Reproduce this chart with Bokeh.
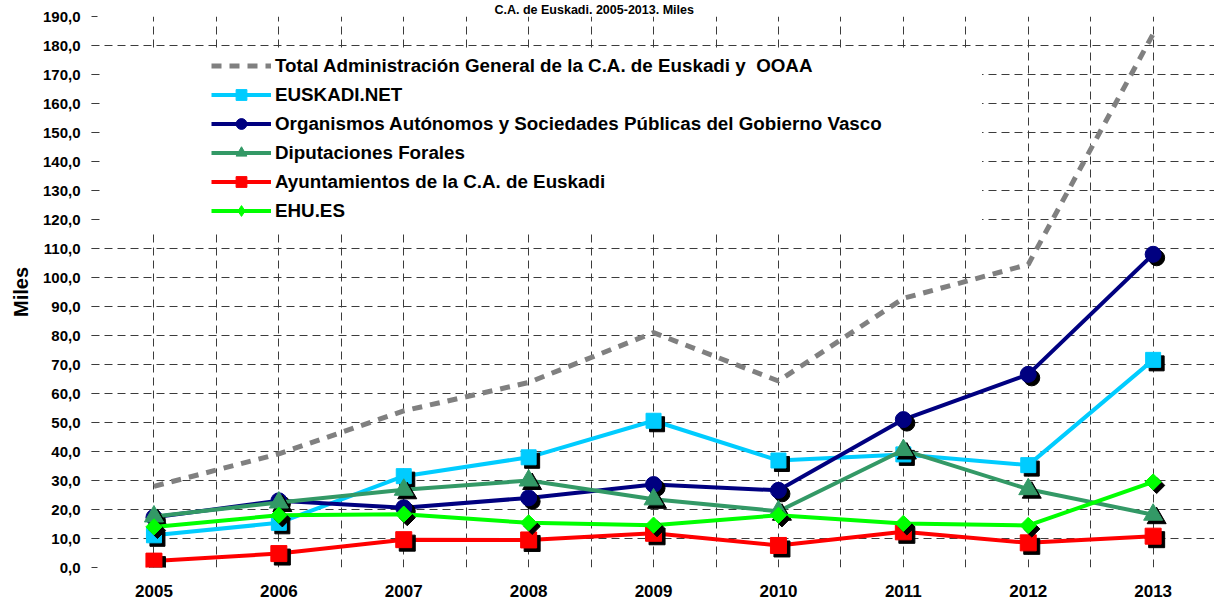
from bokeh.plotting import figure
from bokeh.models import Range1d, FixedTicker, Legend, LegendItem, BoxAnnotation
from bokeh.transform import dodge
from bokeh.embed import file_html
from bokeh.resources import INLINE

# ---------------- data ----------------
years = [2005, 2006, 2007, 2008, 2009, 2010, 2011, 2012, 2013]
year_labels = ["2005", "2006", "2007", "2008", "2009", "2010", "2011", "2012", "2013"]

total_admin = [28.0, 39.2, 54.0, 63.8, 81.0, 64.3, 92.8, 104.5, 184.0]
euskadi_net = [11.1, 15.4, 31.5, 38.0, 50.6, 36.9, 39.0, 35.3, 71.6]
organismos = [17.3, 23.0, 20.6, 24.0, 28.6, 26.6, 51.0, 66.6, 108.0]
diputaciones = [17.6, 22.4, 26.8, 30.0, 23.5, 19.4, 40.5, 27.0, 18.2]
ayuntamientos = [2.2, 4.8, 9.6, 9.5, 11.8, 7.6, 12.3, 8.5, 10.8]
ehu_es = [14.0, 18.0, 18.4, 15.4, 14.6, 18.0, 15.2, 14.5, 29.5]

series_names = [
    "Total Administración General de la C.A. de Euskadi y  OOAA",
    "EUSKADI.NET",
    "Organismos Autónomos y Sociedades Públicas del Gobierno Vasco",
    "Diputaciones Forales",
    "Ayuntamientos de la C.A. de Euskadi",
    "EHU.ES",
]

y_ticks = [0, 10, 20, 30, 40, 50, 60, 70, 80, 90, 100, 110, 120, 130, 140, 150, 160, 170, 180, 190]
y_tick_labels = ["0,0", "10,0", "20,0", "30,0", "40,0", "50,0", "60,0", "70,0", "80,0", "90,0",
                 "100,0", "110,0", "120,0", "130,0", "140,0", "150,0", "160,0", "170,0", "180,0", "190,0"]

title_text = "C.A. de Euskadi. 2005-2013. Miles"
y_title = "Miles"

# ---------------- figure ----------------
FONT = "Liberation Sans"
PX_PER_YEAR = 124.9
W, H = 1214, 605
LEFT, TOP, BOTTOM = 91, 15, 38
FRAME_W = W - LEFT
x_end = 2004.5 + FRAME_W / PX_PER_YEAR

p = figure(width=W, height=H, output_backend="svg", toolbar_location=None,
           x_range=Range1d(2004.5, x_end), y_range=Range1d(0, 190),
           min_border_left=LEFT, min_border_right=0, min_border_top=TOP, min_border_bottom=BOTTOM)
p.outline_line_color = None
p.background_fill_color = "white"

# title (top line of the original, which is cropped there)
p.title.text = title_text
p.title.align = "left"
p.title.offset = 403
p.title.standoff = 0
p.title.text_font = FONT
p.title.text_font_style = "bold"
p.title.text_font_size = "12.5px"
p.title.text_color = "black"

# grids
grid_col = "#3c3c3c"
p.xgrid.ticker = FixedTicker(ticks=[2004.5 + 0.5 * i for i in range(19)])
p.ygrid.ticker = FixedTicker(ticks=y_ticks)
for g in (p.xgrid, p.ygrid):
    g.grid_line_color = grid_col
    g.grid_line_dash = "8 5"
    g.grid_line_width = 1

# axes
p.yaxis.ticker = FixedTicker(ticks=y_ticks)
p.yaxis.major_label_overrides = dict(zip(y_ticks, y_tick_labels))
p.xaxis.ticker = FixedTicker(ticks=years)
p.xaxis.major_label_overrides = dict(zip(years, year_labels))
for ax in (p.xaxis, p.yaxis):
    ax.axis_line_color = None
    ax.minor_tick_line_color = None
    ax.major_label_text_font = FONT
    ax.major_label_text_font_style = "bold"
    ax.major_label_text_color = "black"
p.xaxis.major_tick_line_color = None
p.xaxis.major_tick_out = 0
p.xaxis.major_tick_in = 0
p.xaxis.major_label_text_font_size = "17px"
p.xaxis.major_label_standoff = 17
p.yaxis.major_tick_in = 6
p.yaxis.major_tick_out = 0
p.yaxis.major_tick_line_color = grid_col
p.yaxis.major_label_text_font_size = "15px"
p.yaxis.major_label_standoff = 11
p.yaxis.axis_label = y_title
p.yaxis.axis_label_text_font = FONT
p.yaxis.axis_label_text_font_style = "bold"
p.yaxis.axis_label_text_font_size = "20px"
p.yaxis.axis_label_text_color = "black"
p.yaxis.axis_label_standoff = 8

# white backdrop behind legend (covers grid lines like the original)
backdrop = BoxAnnotation(left=2004.57, right=2011.63, bottom=116.1, top=178.6,
                         fill_color="white", fill_alpha=1.0, line_color=None, level="underlay")
p.add_layout(backdrop)

# total (dashed gray)
r_total = p.line(years, total_admin, line_color="#808080", line_width=5, line_dash="10 8")
items = [LegendItem(label=series_names[0], renderers=[r_total])]

dx = 3.5 / PX_PER_YEAR
dy = 3.5 / 2.905
styles = [
    (euskadi_net, "#00CCFF", "square", 15, 0.0),
    (organismos, "#000080", "circle", 16, 0.0),
    (diputaciones, "#339966", "triangle", 19, 0.0),
    (ayuntamientos, "#FF0000", "square", 16, 0.0),
    (ehu_es, "#00FF00", "square", 11.5, 0.785398),
]
for (vals, col, mk, sz, ang), name in zip(styles, series_names[1:]):
    src = dict(x=years, y=vals)
    rl = p.line("x", "y", source=src, line_color=col, line_width=4)
    p.scatter(dodge("x", dx), dodge("y", -dy), source=src, marker=mk, size=sz, angle=ang,
              fill_color="black", line_color="black")
    if ang:
        # diamond used for the legend symbol (hidden under the rotated square)
        rleg = p.scatter("x", "y", source=src, marker="diamond", size=10,
                         fill_color=col, line_color=col)
    rm = p.scatter("x", "y", source=src, marker=mk, size=sz, angle=ang,
                   fill_color=col, line_color=col)
    items.append(LegendItem(label=name, renderers=[rl, rleg if ang else rm]))

legend = Legend(items=items, location=(120, 343))
legend.background_fill_alpha = 0
legend.border_line_alpha = 0
legend.padding = 0
legend.margin = 0
legend.spacing = 2
legend.glyph_width = 60
legend.glyph_height = 27
legend.label_height = 27
legend.label_standoff = 4
legend.label_text_font = FONT
legend.label_text_font_style = "bold"
legend.label_text_font_size = "18.8px"
legend.label_text_color = "black"
p.add_layout(legend)

open("out.html", "w").write(file_html(p, INLINE))
